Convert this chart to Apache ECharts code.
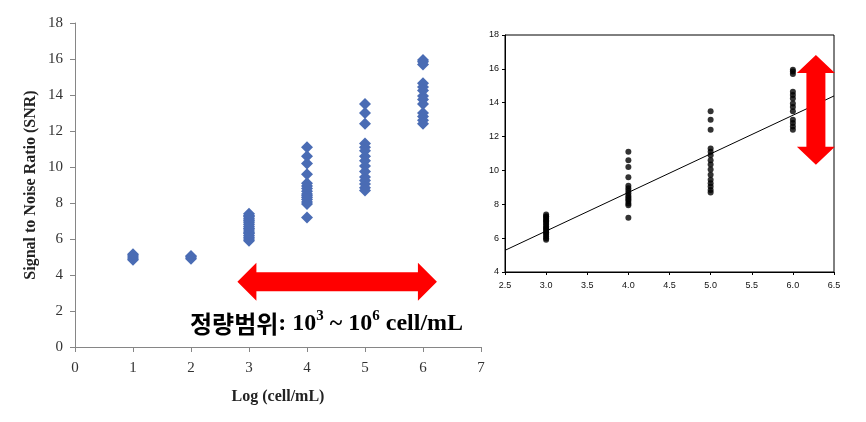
<!DOCTYPE html>
<html><head><meta charset="utf-8">
<script src="https://cdn.jsdelivr.net/npm/echarts@6/dist/echarts.min.js"></script>
<style>html,body{margin:0;padding:0;background:#fff}#c{width:866px;height:422px}</style>
</head><body><div id="c"></div>
<script>
// ---- data ----
const logLevels = [1, 2, 3, 4, 5, 6];
const snrAt1 = [4.85, 4.95, 5.05, 5.15];
const snrAt2 = [4.9, 5.0, 5.05];
const snrAt3 = [5.9, 6.0, 6.1, 6.2, 6.3, 6.35, 6.45, 6.55, 6.6, 6.7, 6.8, 6.9, 7.0, 7.05, 7.15, 7.25, 7.3, 7.4];
const snrAt4 = [11.1, 10.6, 10.2, 9.6, 9.1, 8.95, 8.8, 8.65, 8.5, 8.4, 8.3, 8.2, 8.05, 7.95, 7.2];
const snrAt5 = [13.5, 13.0, 12.4, 11.3, 11.1, 10.9, 10.6, 10.35, 10.05, 9.75, 9.45, 9.25, 9.05, 8.85, 8.7];
const snrAt6 = [15.95, 15.85, 15.7, 14.65, 14.45, 14.25, 13.95, 13.75, 13.5, 13.0, 12.8, 12.6, 12.4];
const snrGroups = [snrAt1, snrAt2, snrAt3, snrAt4, snrAt5, snrAt6];
const fitSlope = 2.28;
const fitIntercept = -0.42;
const quantRangeText = '정량범위';
const leftXName = 'Log (cell/mL)';
const leftYName = 'Signal to Noise Ratio (SNR)';
// annotation anchors in data units
const hArrow = { grid: 0, from: [2.8, 3.63], to: [6.24, 3.63] };
const vArrow = { grid: 1, from: [6.28, 16.82], to: [6.28, 10.33] };

const leftPoints = [];
const rightPoints = [];
logLevels.forEach((lv, i) => snrGroups[i].forEach(v => {
  leftPoints.push([lv, v]);
  if (lv >= 3) rightPoints.push([lv, v]);
}));
const rightXMin = 2.5, rightXMax = 6.5;
const fitLine = [[rightXMin, fitSlope * rightXMin + fitIntercept], [rightXMax, fitSlope * rightXMax + fitIntercept]];

const serif = '"Liberation Serif", "DejaVu Serif", serif';
const sans = '"Liberation Sans", Arial, sans-serif';

const chart = echarts.init(document.getElementById('c'), null, { renderer: 'canvas' });
chart.setOption({
  animation: false,
  backgroundColor: '#fff',
  grid: [
    { left: 75, top: 23, right: 385, bottom: 75 },
    { left: 505, top: 35, right: 32, bottom: 150, show: true, borderColor: '#000', borderWidth: 1 }
  ],
  xAxis: [
    { gridIndex: 0, type: 'value', min: 0, max: 7, interval: 1,
      name: leftXName, nameLocation: 'middle', nameGap: 42,
      nameTextStyle: { fontFamily: serif, fontWeight: 'bold', fontSize: 16, color: '#222' },
      axisLine: { show: true, onZero: false, lineStyle: { color: '#868686' } },
      axisTick: { show: true, length: 5, lineStyle: { color: '#868686' } },
      axisLabel: { fontFamily: serif, fontSize: 15, color: '#333', margin: 14 },
      splitLine: { show: false } },
    { gridIndex: 1, type: 'value', min: rightXMin, max: rightXMax, interval: 0.5,
      axisLine: { show: true, onZero: false, lineStyle: { color: '#000' } },
      axisTick: { show: true, length: 3, lineStyle: { color: '#000' } },
      axisLabel: { fontFamily: sans, fontSize: 9, color: '#111', margin: 9, formatter: v => v.toFixed(1) },
      splitLine: { show: false } }
  ],
  yAxis: [
    { gridIndex: 0, type: 'value', min: 0, max: 18, interval: 2,
      name: leftYName, nameLocation: 'middle', nameGap: 36,
      nameTextStyle: { fontFamily: serif, fontWeight: 'bold', fontSize: 16, color: '#222' },
      axisLine: { show: true, onZero: false, lineStyle: { color: '#868686' } },
      axisTick: { show: true, length: 5, lineStyle: { color: '#868686' } },
      axisLabel: { fontFamily: serif, fontSize: 15, color: '#333', margin: 12 },
      splitLine: { show: false } },
    { gridIndex: 1, type: 'value', min: 4, max: 18, interval: 2,
      axisLine: { show: true, onZero: false, lineStyle: { color: '#000' } },
      axisTick: { show: true, length: 3, lineStyle: { color: '#000' } },
      axisLabel: { fontFamily: sans, fontSize: 9, color: '#111', margin: 6 },
      splitLine: { show: false } }
  ],
  series: [
    { type: 'scatter', xAxisIndex: 0, yAxisIndex: 0, data: leftPoints,
      symbol: 'diamond', symbolSize: [12, 12], itemStyle: { color: '#4a6cb4', opacity: 1 } },
    { type: 'line', xAxisIndex: 1, yAxisIndex: 1, data: fitLine, showSymbol: false, symbol: 'none',
      lineStyle: { color: '#000', width: 1 }, z: 1 },
    { type: 'scatter', xAxisIndex: 1, yAxisIndex: 1, data: rightPoints,
      symbol: 'circle', symbolSize: 6, itemStyle: { color: '#000' }, z: 3 }
  ]
});

function hArrowPts(a, b, sh, hh, hl) {
  const y = a[1], x1 = a[0], x2 = b[0];
  return [[x1, y], [x1 + hl, y - hh], [x1 + hl, y - sh], [x2 - hl, y - sh], [x2 - hl, y - hh], [x2, y],
          [x2 - hl, y + hh], [x2 - hl, y + sh], [x1 + hl, y + sh], [x1 + hl, y + hh]];
}
function vArrowPts(a, b, sh, hh, hl) {
  const x = a[0], y1 = a[1], y2 = b[1];
  return [[x, y1], [x + hh, y1 + hl], [x + sh, y1 + hl], [x + sh, y2 - hl], [x + hh, y2 - hl], [x, y2],
          [x - hh, y2 - hl], [x - sh, y2 - hl], [x - sh, y1 + hl], [x - hh, y1 + hl]];
}
const ha = chart.convertToPixel({ gridIndex: hArrow.grid }, hArrow.from);
const hb = chart.convertToPixel({ gridIndex: hArrow.grid }, hArrow.to);
const va = chart.convertToPixel({ gridIndex: vArrow.grid }, vArrow.from);
const vb = chart.convertToPixel({ gridIndex: vArrow.grid }, vArrow.to);
const textAnchor = chart.convertToPixel({ gridIndex: 0 }, [2.0, 1.3]);

chart.setOption({
  graphic: [
    { type: 'polygon', shape: { points: hArrowPts(ha, hb, 9.5, 19, 19) }, style: { fill: '#ff0000' }, z: 10 },
    { type: 'polygon', shape: { points: vArrowPts(va, vb, 9.5, 19, 18) }, style: { fill: '#ff0000' }, z: 10 },
    { type: 'text', x: textAnchor[0] - 1, y: textAnchor[1], z: 11,
      style: {
        text: '{k|' + quantRangeText + '}{s|: 10}{p|3}{s| ~ 10}{p|6}{s| cell/mL}',
        verticalAlign: 'middle', align: 'left',
        rich: {
          k: { fontFamily: '"Noto Sans CJK KR", sans-serif', fontWeight: 'bold', fontSize: 24, lineHeight: 30, fill: '#000' },
          s: { fontFamily: serif, fontWeight: 'bold', fontSize: 24, lineHeight: 30, fill: '#000' },
          p: { fontFamily: serif, fontWeight: 'bold', fontSize: 15, lineHeight: 21, verticalAlign: 'top', fill: '#000' }
        }
      } }
  ]
});
</script></body></html>
